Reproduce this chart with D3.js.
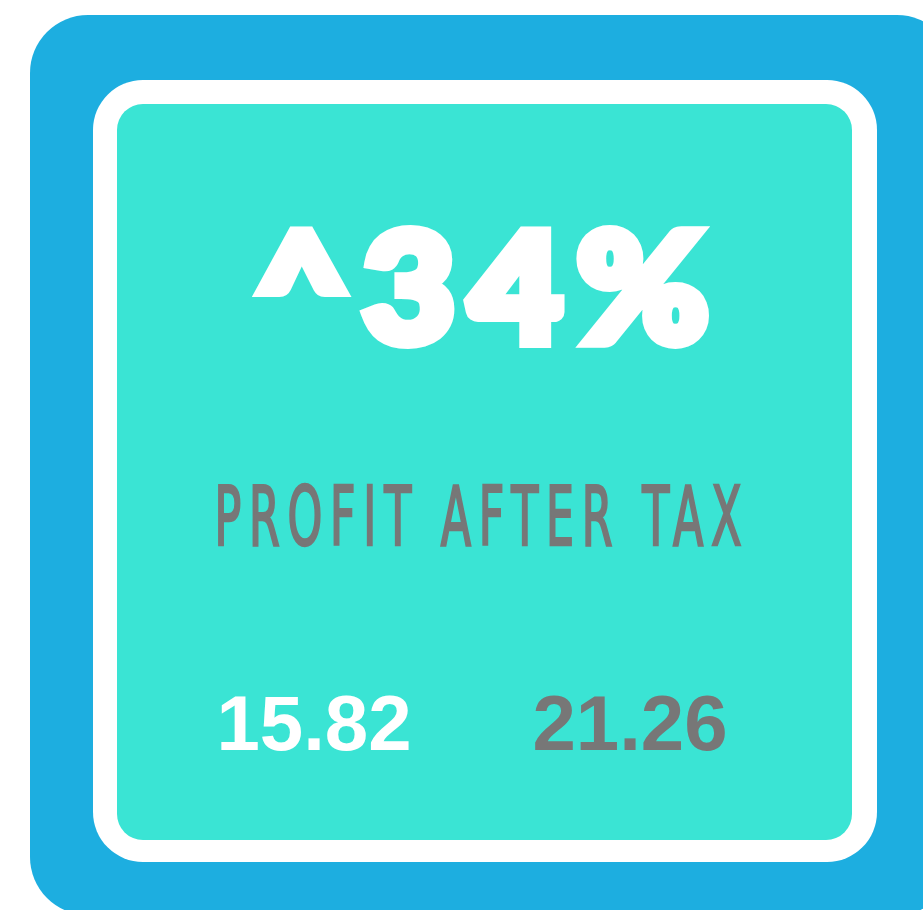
<!DOCTYPE html>
<html>
<head>
<meta charset="utf-8">
<script src="https://cdn.jsdelivr.net/npm/d3@7"></script>
<style>
  html, body { margin: 0; padding: 0; background: #ffffff; }
  svg { display: block; }
</style>
</head>
<body>
<svg id="card"></svg>
<script>
// KPI values
const kpiLabel = ['PROFIT AFTER TAX'];
const periods = ['before', 'after'];
const periodValues = [15.82, 21.26];
const periodColours = ['#ffffff', '#777777'];

const width = 923;
const height = 910;

const svg = d3.select('#card')
  .attr('width', width)
  .attr('height', height);

// outer blue panel, white frame, teal face
svg.append('rect')
  .attr('x', 30).attr('y', 15)
  .attr('width', 925).attr('height', 900)
  .attr('rx', 58).attr('ry', 58)
  .attr('fill', '#1daee0');

svg.append('rect')
  .attr('x', 93).attr('y', 80)
  .attr('width', 784).attr('height', 782)
  .attr('rx', 50).attr('ry', 50)
  .attr('fill', '#ffffff');

svg.append('rect')
  .attr('x', 117).attr('y', 104)
  .attr('width', 735).attr('height', 736)
  .attr('rx', 26).attr('ry', 26)
  .attr('fill', '#3ae4d4');

// percent change, drawn heavy with a stroke on top of the fill
const change = Math.round((periodValues[1] / periodValues[0] - 1) * 100);
const bx = 1.06;

svg.append('g')
  .attr('transform', `translate(482,342) scale(${bx},1)`)
  .append('text')
  .attr('x', 0)
  .attr('y', 0)
  .attr('text-anchor', 'middle')
  .attr('textLength', 453 / bx)
  .attr('lengthAdjust', 'spacing')
  .style('font-family', 'Lato, "Liberation Sans", sans-serif')
  .style('font-weight', 900)
  .style('font-size', '150px')
  .attr('fill', '#ffffff')
  .attr('stroke', '#ffffff')
  .attr('stroke-width', 12)
  .attr('stroke-linejoin', 'miter')
  .text('^' + change + '%');

// label: narrow glyphs squeezed horizontally, gaps widened by textLength
const sx = 0.6;
svg.append('g')
  .attr('transform', `translate(478,545) scale(${sx},1)`)
  .append('text')
  .attr('x', 0)
  .attr('y', 0)
  .attr('text-anchor', 'middle')
  .attr('textLength', 527 / sx)
  .attr('lengthAdjust', 'spacing')
  .style('font-family', '"Liberation Sans Narrow", "DejaVu Sans Condensed", sans-serif')
  .style('font-weight', 400)
  .style('font-size', '82px')
  .attr('fill', '#777777')
  .attr('stroke', '#777777')
  .attr('stroke-width', 2.5)
  .text(kpiLabel[0]);

// the two period values, placed with a point scale
const xPeriod = d3.scalePoint()
  .domain(periods)
  .range([314, 630]);

svg.selectAll('.period-value')
  .data(periods)
  .join('text')
  .attr('class', 'period-value')
  .attr('x', d => xPeriod(d))
  .attr('y', 750)
  .attr('text-anchor', 'middle')
  .style('font-family', '"Liberation Sans", Arial, sans-serif')
  .style('font-weight', 700)
  .style('font-size', '78px')
  .attr('fill', (d, i) => periodColours[i])
  .text((d, i) => d3.format('.2f')(periodValues[i]));
</script>
</body>
</html>
